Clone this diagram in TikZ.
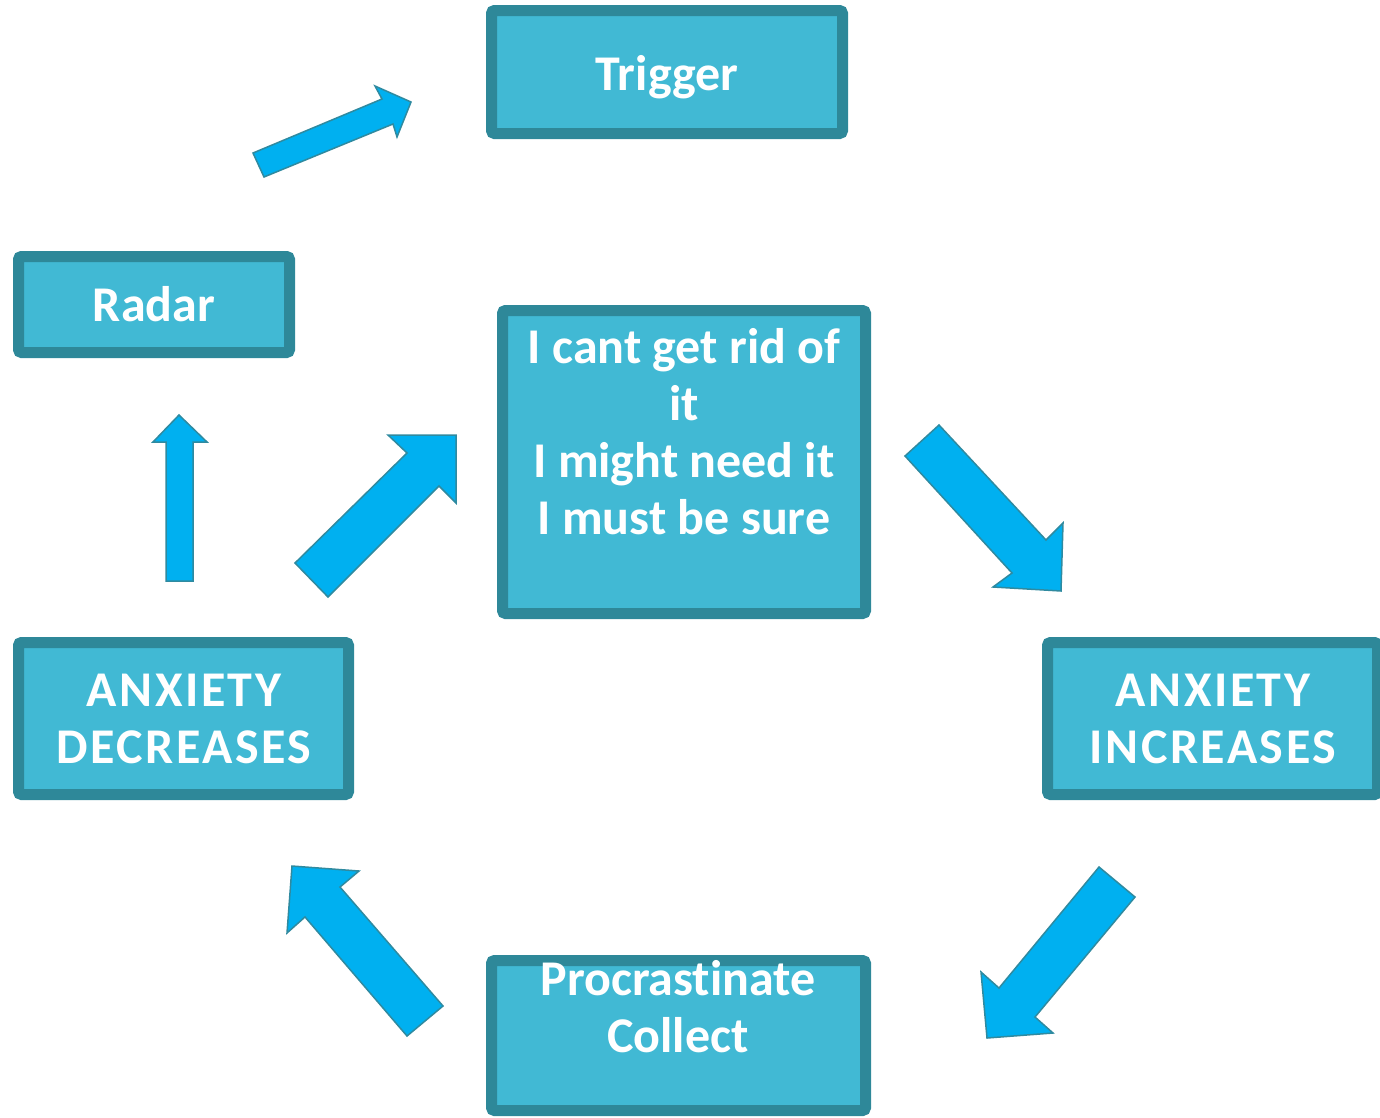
\documentclass[tikz,border=0pt]{standalone}
\usepackage{fontspec}
\setmainfont{Carlito}[Ligatures=NoCommon]
\definecolor{boxfill}{HTML}{41B9D4}
\definecolor{boxedge}{HTML}{2E8899}
\definecolor{arrowfill}{HTML}{00B0F0}
\definecolor{arrowedge}{HTML}{2F8AA0}
\tikzset{
  stagebox/.style={rectangle, draw=boxedge, fill=boxfill, line width=11pt,
    rounded corners=3pt, inner sep=0pt},
  stagetext/.style={anchor=base, inner sep=0pt, text=white,
    font=\fontsize{50}{57}\selectfont\bfseries},
  capstext/.style={stagetext, font=\fontsize{50}{57}\selectfont\bfseries\addfontfeature{LetterSpace=5}},
  blockarrow/.style={draw=arrowedge, fill=arrowfill, line width=1.5pt, line join=miter},
}
\begin{document}
\begin{tikzpicture}[x=1pt,y=-1pt]
\useasboundingbox (0,0) rectangle (1380,1117);
\clip (0,0) rectangle (1380,1117);

% stage boxes
\node[stagebox, minimum width=351pt, minimum height=123pt] (trigger) at (667,72) {};
\node[stagebox, minimum width=271pt, minimum height=96pt] (radar) at (154,304.5) {};
\node[stagebox, minimum width=363pt, minimum height=303pt] (core) at (684,462) {};
\node[stagebox, minimum width=330pt, minimum height=152pt] (decr) at (183.5,718.5) {};
\node[stagebox, minimum width=330pt, minimum height=152pt] (incr) at (1212.5,718.5) {};
\node[stagebox, minimum width=374pt, minimum height=150pt] (proc) at (678.5,1035.5) {};

% labels
\node[stagetext] (triggerT) at (667,90) {Trigger};
\node[stagetext] (radarT) at (154,321) {Radar};
\node[stagetext] (coreA) at (684,363) {I cant get rid of};
\node[stagetext] (coreB) at (684,420) {it};
\node[stagetext] (coreC) at (684,477) {I might need it};
\node[stagetext] (coreD) at (684,534) {I must be sure};
\node[capstext] (decrA) at (184,706) {ANXIETY};
\node[capstext] (decrB) at (184,763) {DECREASES};
\node[capstext] (incrA) at (1213,706) {ANXIETY};
\node[capstext] (incrB) at (1213,763) {INCREASES};
\node[stagetext] (procA) at (678,995) {Procrastinate};
\node[stagetext] (procB) at (678,1052) {Collect};

% block arrows of the cycle
\draw[blockarrow] (253,153) -- (382,99) -- (375,86) -- (411,102) -- (397,137) -- (393,124) -- (264,177) -- cycle;
\draw[blockarrow] (905,456) -- (939,425) -- (1046,540) -- (1063,523) -- (1061,591) -- (993,587) -- (1012,573) -- cycle;
\draw[blockarrow] (1099,867) -- (1135,897) -- (1035,1017) -- (1053,1033) -- (987,1038) -- (981,972) -- (999,988) -- cycle;
\draw[blockarrow] (443,1006) -- (407,1036) -- (305,917) -- (287,933) -- (292,866) -- (359,871) -- (340,887) -- cycle;
\draw[blockarrow] (166,581) -- (166,442) -- (153,442) -- (179,415) -- (207,442) -- (193,442) -- (193,581) -- cycle;
\draw[blockarrow] (295,563) -- (407,453) -- (388,435) -- (456,435) -- (456,503) -- (439,486) -- (328,597) -- cycle;
\end{tikzpicture}
\end{document}
